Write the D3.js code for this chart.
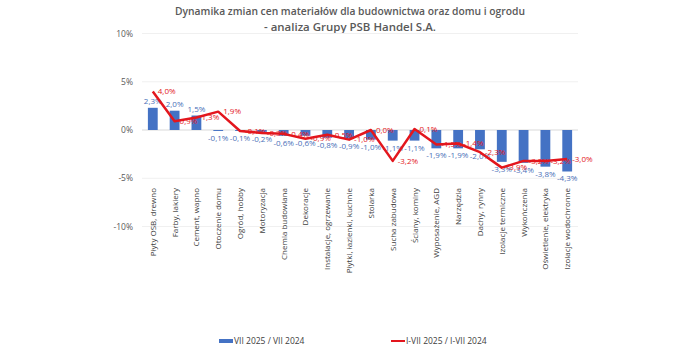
<!DOCTYPE html>
<html>
<head>
<meta charset="utf-8">
<script src="https://cdn.jsdelivr.net/npm/d3@7"></script>
<style>
  body{margin:0;background:#fff;}
  svg{display:block;font-family:"Open Sans","Noto Sans",sans-serif;}
</style>
</head>
<body>
<svg id="chart" width="700" height="350"></svg>
<script>
var categories=['Płyty OSB, drewno','Farby, lakiery','Cement, wapno','Otoczenie domu','Ogród, hobby',
  'Motoryzacja','Chemia budowlana','Dekoracje','Instalacje, ogrzewanie','Płytki, łazienki, kuchnie',
  'Stolarka','Sucha zabudowa','Ściany, kominy','Wyposażenie, AGD','Narzędzia','Dachy, rynny',
  'Izolacje termiczne','Wykończenia','Oświetlenie, elektryka','Izolacje wodochronne']
var barValues=[2.3,2.0,1.5,-0.1,-0.1,-0.2,-0.6,-0.6,-0.8,-0.9,-1.0,-1.1,-1.1,-1.9,-1.9,-2.0,-3.3,-3.4,-3.8,-4.3]
var lineValues=[4.0,0.9,1.3,1.9,-0.1,-0.3,-0.4,-0.9,-0.5,-1.0,0.0,-3.2,0.1,-1.5,-1.4,-2.3,-3.9,-3.2,-3.2,-3.0]
var yTicks=[10,5,0,-5,-10]
var titleLines=['Dynamika zmian cen materiałów dla budownictwa oraz domu i ogrodu','- analiza Grupy PSB Handel S.A.']
var legendLabels=['VII 2025 / VII 2024','I-VII 2025 / I-VII 2024']

var BLUE='#4472c4',RED='#e3161d',TXT='#595959'
var svg=d3.select('#chart')
var fmt=v=>d3.format('.1f')(v).replace('.',',').replace('−','-')+'%'

var x=d3.scaleBand().domain(categories).range([142,578]).paddingInner(0.55).paddingOuter(0.27)
var y=d3.scaleLinear().domain([-10,10]).range([226.5,33.5])

// title
var titleW=[350,172]
svg.append('g').selectAll('text')
  .data(titleLines)
  .join('text')
  .attr('x',350).attr('y',(d,i)=>15+i*16)
  .attr('text-anchor','middle')
  .attr('font-size',11).attr('font-weight',600).attr('fill',TXT)
  .attr('textLength',(d,i)=>titleW[i]).attr('lengthAdjust','spacingAndGlyphs')
  .text(d=>d)

// grid
svg.append('g').selectAll('line')
  .data(yTicks)
  .join('line')
  .attr('x1',142).attr('x2',578)
  .attr('y1',d=>y(d)).attr('y2',d=>y(d))
  .attr('stroke',d=>d==0?'#d9d9d9':'#f0f0f0').attr('stroke-width',1)

// y axis labels
var yAxis=d3.axisLeft(y).tickValues(yTicks).tickSize(0).tickPadding(0).tickFormat(d=>d+'%')
var ga=svg.append('g').attr('transform','translate(133,0)').call(yAxis)
ga.select('.domain').remove()
ga.selectAll('text').attr('font-size',8.5).attr('fill',TXT).attr('font-family','"Open Sans",sans-serif')

// bars
svg.append('g').selectAll('rect')
  .data(barValues)
  .join('rect')
  .attr('x',(d,i)=>x(categories[i]))
  .attr('width',x.bandwidth())
  .attr('y',d=>y(Math.max(0,d)))
  .attr('height',d=>Math.abs(y(d)-y(0)))
  .attr('fill',BLUE)

// bar labels
svg.append('g').selectAll('text')
  .data(barValues)
  .join('text')
  .attr('x',(d,i)=>x(categories[i])+x.bandwidth()/2)
  .attr('y',d=>d>=0?y(d)-4:y(d)+10)
  .attr('text-anchor','middle')
  .attr('font-size',8).attr('fill','#4a6fb8')
  .text(d=>fmt(d))

// category labels
svg.append('g').selectAll('text')
  .data(categories)
  .join('text')
  .attr('transform',d=>`translate(${x(d)+x.bandwidth()/2+3},188) rotate(-90)`)
  .attr('text-anchor','end')
  .attr('font-size',8).attr('fill','#404040')
  .text(d=>d)

// line
var cx=i=>x(categories[i])+x.bandwidth()/2
var line=d3.line().x((d,i)=>cx(i)).y(d=>y(d))
svg.append('path')
  .datum(lineValues)
  .attr('d',line)
  .attr('fill','none').attr('stroke',RED).attr('stroke-width',2.5)
  .attr('stroke-linejoin','round')

svg.append('g').selectAll('text')
  .data(lineValues)
  .join('text')
  .attr('x',(d,i)=>cx(i)+5)
  .attr('y',d=>y(d))
  .attr('dy','0.35em')
  .attr('font-size',8).attr('fill',RED)
  .text(d=>fmt(d))

// legend
var lg=svg.append('g').attr('font-size',8.5).attr('fill','#404040')
lg.append('rect').attr('x',219).attr('y',339).attr('width',14).attr('height',4).attr('fill',BLUE)
lg.append('text').attr('x',234).attr('y',344).text(legendLabels[0])
lg.append('line').attr('x1',391).attr('x2',405).attr('y1',341).attr('y2',341).attr('stroke',RED).attr('stroke-width',2)
lg.append('text').attr('x',406).attr('y',344).text(legendLabels[1])
</script>
</body>
</html>
